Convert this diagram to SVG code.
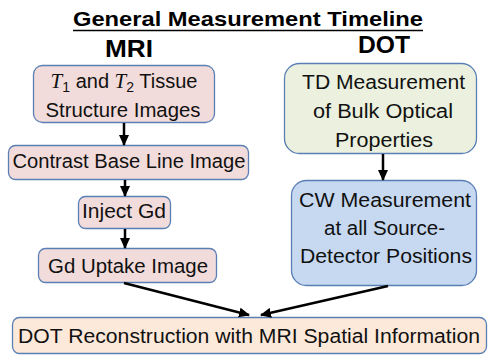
<svg xmlns="http://www.w3.org/2000/svg" width="488" height="356" viewBox="0 0 488 356">
<style>
.t{font-family:"Liberation Sans",Arial,sans-serif;font-size:20px;fill:#111;}
.h{font-family:"Liberation Sans",Arial,sans-serif;font-weight:bold;fill:#000;}
.box{stroke:#5a7fb5;stroke-width:1.3;}
.pink{fill:#f2dcdb;}
.green{fill:#ebf1de;}
.blue{fill:#c6d9f1;}
.peach{fill:#fde9d9;}
.m{font-family:"Liberation Serif","Times New Roman",serif;font-style:italic;}
.c{stroke:#000;stroke-width:2.5;fill:none;}
</style>
<defs>
<marker id="ah" markerUnits="userSpaceOnUse" markerWidth="12" markerHeight="10" refX="10" refY="5" orient="auto">
<path d="M0,0 L11,5 L0,10 Z" fill="#000"/>
</marker>
</defs>
<g id="title">
<text class="h" x="248" y="26" font-size="21" text-anchor="middle" textLength="350" lengthAdjust="spacingAndGlyphs">General Measurement Timeline</text>
<line x1="73" y1="30.5" x2="423" y2="30.5" stroke="#000" stroke-width="1.5"/>
</g>
<g id="mri-label"><text class="h" x="105" y="57" font-size="24" textLength="48" lengthAdjust="spacingAndGlyphs">MRI</text></g>
<g id="dot-label"><text class="h" x="358" y="53" font-size="24" textLength="52" lengthAdjust="spacingAndGlyphs">DOT</text></g>
<g id="n1">
<rect class="box pink" x="33.5" y="65.5" width="181" height="57" rx="9"/>
<text class="t" x="124" y="88" text-anchor="middle"><tspan class="m" font-size="21">T</tspan><tspan font-size="14" dy="4">1</tspan><tspan dy="-4"> and </tspan><tspan class="m" font-size="21">T</tspan><tspan font-size="14" dy="4">2</tspan><tspan dy="-4"> Tissue</tspan></text>
<text class="t" x="123" y="117" text-anchor="middle" textLength="155" lengthAdjust="spacingAndGlyphs">Structure Images</text>
</g>
<g id="n2">
<rect class="box pink" x="8.5" y="145.5" width="240" height="34" rx="7"/>
<text class="t" x="129" y="168" text-anchor="middle" textLength="233" lengthAdjust="spacingAndGlyphs">Contrast Base Line Image</text>
</g>
<g id="n3">
<rect class="box pink" x="78.5" y="196.5" width="92" height="32" rx="7"/>
<text class="t" x="124" y="218" text-anchor="middle" textLength="84" lengthAdjust="spacingAndGlyphs">Inject Gd</text>
</g>
<g id="n4">
<rect class="box pink" x="38.5" y="248.5" width="178" height="34" rx="7"/>
<text class="t" x="128" y="273" text-anchor="middle" textLength="160" lengthAdjust="spacingAndGlyphs">Gd Uptake Image</text>
</g>
<g id="n5">
<rect class="box green" x="284.5" y="63.5" width="192" height="90" rx="15"/>
<text class="t" x="383.5" y="89" text-anchor="middle" textLength="163" lengthAdjust="spacingAndGlyphs">TD Measurement</text>
<text class="t" x="383" y="118" text-anchor="middle" textLength="140" lengthAdjust="spacingAndGlyphs">of Bulk Optical</text>
<text class="t" x="384" y="147" text-anchor="middle" textLength="98" lengthAdjust="spacingAndGlyphs">Properties</text>
</g>
<g id="n6">
<rect class="box blue" x="291.5" y="180.5" width="185" height="105" rx="15"/>
<text class="t" x="385" y="207" text-anchor="middle" textLength="172" lengthAdjust="spacingAndGlyphs">CW Measurement</text>
<text class="t" x="384.5" y="235" text-anchor="middle" textLength="121" lengthAdjust="spacingAndGlyphs">at all Source-</text>
<text class="t" x="386" y="263" text-anchor="middle" textLength="172" lengthAdjust="spacingAndGlyphs">Detector Positions</text>
</g>
<g id="n7">
<rect class="box peach" x="12.5" y="317.5" width="474" height="36" rx="7"/>
<text class="t" x="249" y="343" text-anchor="middle" textLength="462" lengthAdjust="spacingAndGlyphs">DOT Reconstruction with MRI Spatial Information</text>
</g>
<g id="connectors">
<line class="c" x1="124" y1="123" x2="124" y2="145" marker-end="url(#ah)"/>
<line class="c" x1="125" y1="180" x2="125" y2="196" marker-end="url(#ah)"/>
<line class="c" x1="125" y1="229" x2="125" y2="248" marker-end="url(#ah)"/>
<line class="c" x1="383" y1="154" x2="383" y2="180" marker-end="url(#ah)"/>
<line class="c" x1="124" y1="283" x2="249" y2="315" marker-end="url(#ah)"/>
<line class="c" x1="388" y1="286" x2="261" y2="315" marker-end="url(#ah)"/>
</g>
</svg>
